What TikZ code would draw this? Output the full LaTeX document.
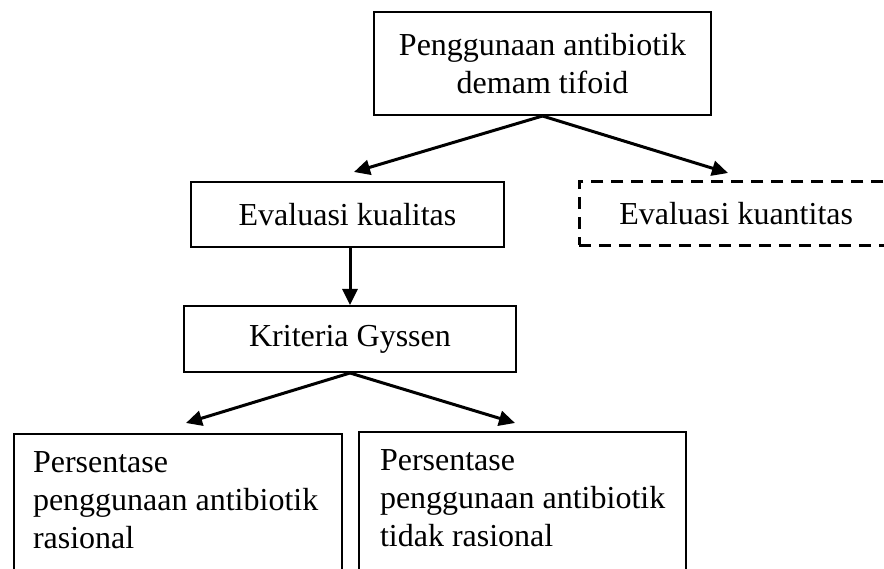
\documentclass[tikz,border=0pt]{standalone}
\usepackage{fontspec}
\setmainfont{Liberation Serif}
\usetikzlibrary{arrows.meta}
\begin{document}
\begin{tikzpicture}[x=1pt,y=-1pt,
  txt/.style={font=\fontsize{32}{38}\selectfont},
  box/.style={draw, line width=2pt, txt, inner sep=0pt},
  dbox/.style={draw, line width=2.6pt, dash pattern=on 12pt off 8pt, txt, inner sep=0pt},
  arr/.style={line width=3pt, -{Triangle[length=16pt,width=15pt]}}]
\useasboundingbox (0,0) rectangle (884,569);
\clip (0,0) rectangle (884,569);
% boxes
\node[box, minimum width=337pt, minimum height=103pt, align=center] (top) at (542.5,63.5)
  {Penggunaan antibiotik\\demam tifoid};
\node[box, minimum width=313pt, minimum height=65pt] (kual) at (347.5,214.5) {Evaluasi kualitas};
\node[dbox, anchor=north west, minimum height=64pt, inner xsep=40pt] (kuan) at (578,180)
  {\makebox[340pt][l]{Evaluasi kuantitas}};
\node[box, minimum width=332pt, minimum height=66pt] (kri) at (350,339) {Kriteria Gyssen};
\node[box, anchor=north west, inner xsep=19pt, inner ysep=18pt] (rat) at (13,433)
  {\parbox[t][180pt][t]{290pt}{\raggedright\mbox{Persentase}\\\mbox{penggunaan antibiotik}\\\mbox{rasional}}};
\node[box, anchor=north west, inner xsep=21pt, inner ysep=18pt] (irr) at (358,431)
  {\parbox[t][180pt][t]{285pt}{\raggedright\mbox{Persentase}\\\mbox{penggunaan antibiotik}\\\mbox{tidak rasional}}};
% arrow tips
\coordinate (t1) at (354,172);
\coordinate (t2) at (728,173);
\coordinate (t3) at (186,423);
\coordinate (t4) at (515,423);
\draw[arr] (top.south) -- (t1);
\draw[arr] (top.south) -- (t2);
\draw[arr] (kri.north |- kual.south) -- (kri.north);
\draw[arr] (kri.south) -- (t3);
\draw[arr] (kri.south) -- (t4);
\end{tikzpicture}
\end{document}
